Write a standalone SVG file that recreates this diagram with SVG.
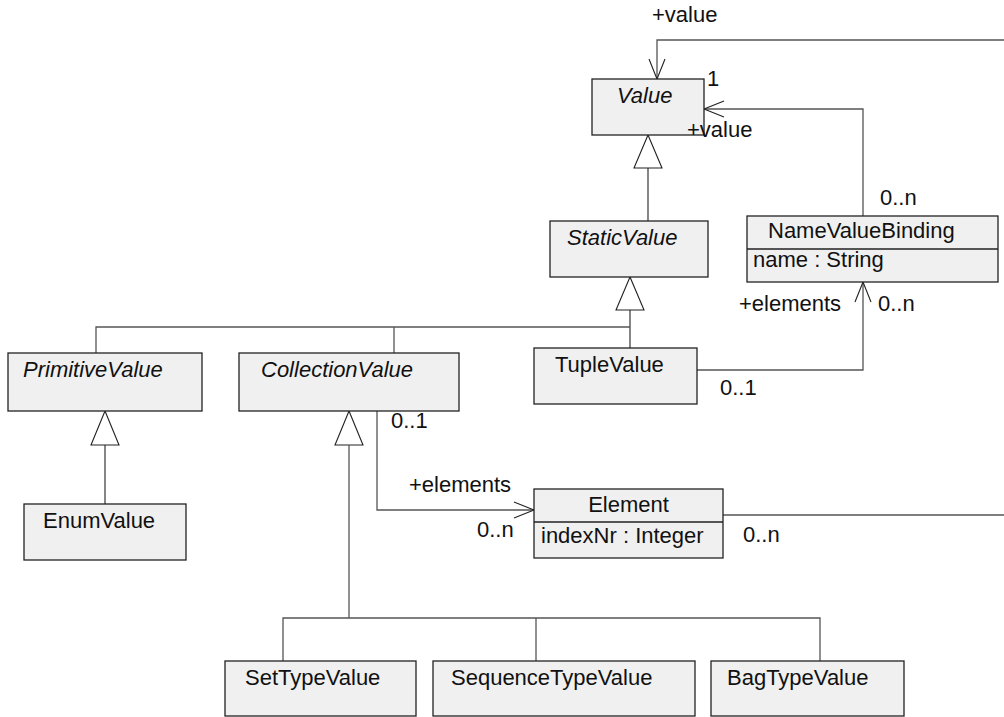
<svg xmlns="http://www.w3.org/2000/svg" width="1004" height="717" viewBox="0 0 1004 717">
<style>
.box{fill:#f0f0f0;stroke:#222;stroke-width:1.3}
.t{font-family:"Liberation Sans",Arial,sans-serif;font-size:22px;fill:#111}
.i{font-style:italic}
.c{fill:none;stroke:#555;stroke-width:1.3}
.g{fill:#fff;stroke:#222;stroke-width:1.1}
.gl{fill:none;stroke:#222;stroke-width:1.1}
</style>
<defs>
<marker id="open" viewBox="-21 -10 23 20" refX="0" refY="0" markerWidth="23" markerHeight="20" markerUnits="userSpaceOnUse" orient="auto">
<path d="M-20,-8 L0,0 L-20,8" fill="none" stroke="#222" stroke-width="1.1"/>
</marker>
</defs>
<rect width="1004" height="717" fill="#fff"/>
<g id="connectors">
<polyline class="c" points="1004,40 657,40 657,79" marker-end="url(#open)"/>
<polyline class="c" points="863,216 863,109 704,109" marker-end="url(#open)"/>
<polyline class="c" points="697,370 863,370 863,282" marker-end="url(#open)"/>
<polyline class="c" points="377,411 377,510 534,510" marker-end="url(#open)"/>
<line class="c" x1="723" y1="515" x2="1004" y2="515"/>
<polygon class="g" points="648,135 634,168 662,168"/>
<line class="gl" x1="648" y1="168" x2="648" y2="221"/>
<polygon class="g" points="630,277 616,310 644,310"/>
<line class="gl" x1="630" y1="310" x2="630" y2="348"/>
<polyline class="c" points="96,353 96,327 630,327"/>
<line class="c" x1="394" y1="327" x2="394" y2="353"/>
<polygon class="g" points="105,411 91,445 119,445"/>
<line class="gl" x1="105" y1="445" x2="105" y2="504"/>
<polygon class="g" points="349,411 335,445 363,445"/>
<line class="c" x1="349" y1="445" x2="349" y2="618"/>
<polyline class="c" points="283,661 283,618 820,618 820,661"/>
<line class="c" x1="536" y1="618" x2="536" y2="661"/>
</g>
<g id="Value"><rect class="box" x="592" y="79" width="112" height="56"/><text class="t i" x="617" y="103">Value</text></g>
<g id="StaticValue"><rect class="box" x="550" y="221" width="158" height="56"/><text class="t i" x="567" y="245">StaticValue</text></g>
<g id="NameValueBinding"><rect class="box" x="747" y="216" width="251" height="66"/><line x1="747" y1="249" x2="998" y2="249" stroke="#222" stroke-width="1.3"/><text class="t" x="768" y="238">NameValueBinding</text><text class="t" x="753" y="267">name : String</text></g>
<g id="TupleValue"><rect class="box" x="534" y="348" width="163" height="56"/><text class="t" x="555" y="372">TupleValue</text></g>
<g id="PrimitiveValue"><rect class="box" x="8" y="353" width="194" height="58"/><text class="t i" x="23" y="377">PrimitiveValue</text></g>
<g id="CollectionValue"><rect class="box" x="239" y="353" width="220" height="58"/><text class="t i" x="261" y="377">CollectionValue</text></g>
<g id="EnumValue"><rect class="box" x="24" y="504" width="162" height="56"/><text class="t" x="43" y="528">EnumValue</text></g>
<g id="Element"><rect class="box" x="534" y="489" width="189" height="69"/><line x1="534" y1="522" x2="723" y2="522" stroke="#222" stroke-width="1.3"/><text class="t" x="628.5" y="512" text-anchor="middle">Element</text><text class="t" x="541" y="543">indexNr : Integer</text></g>
<g id="SetTypeValue"><rect class="box" x="225" y="661" width="191" height="55"/><text class="t" x="245" y="685">SetTypeValue</text></g>
<g id="SequenceTypeValue"><rect class="box" x="433" y="661" width="262" height="55"/><text class="t" x="451" y="685">SequenceTypeValue</text></g>
<g id="BagTypeValue"><rect class="box" x="711" y="661" width="193" height="55"/><text class="t" x="727" y="685">BagTypeValue</text></g>
<g id="connector-labels">
<text class="t" x="652" y="22">+value</text>
<text class="t" x="707" y="86">1</text>
<text class="t" x="687" y="137">+value</text>
<text class="t" x="880" y="205">0..n</text>
<text class="t" x="739" y="311">+elements</text>
<text class="t" x="878" y="311">0..n</text>
<text class="t" x="720" y="395">0..1</text>
<text class="t" x="391" y="428">0..1</text>
<text class="t" x="409" y="492">+elements</text>
<text class="t" x="477" y="537">0..n</text>
<text class="t" x="743" y="542">0..n</text>
</g>
</svg>
